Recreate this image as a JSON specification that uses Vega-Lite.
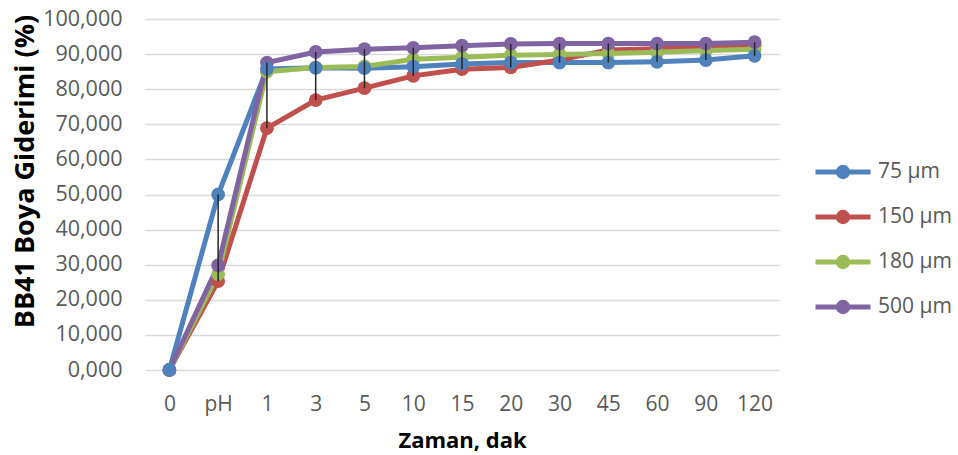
{
  "$schema": "https://vega.github.io/schema/vega-lite/v6.json",
  "autosize": {"type": "none"},
  "padding": {"left": 145, "top": 19, "right": 179, "bottom": 85},
  "width": 634,
  "height": 351,
  "background": "white",
  "config": {
    "view": {"stroke": null},
    "font": "Open Sans"
  },
  "data": {
    "values": [
      {"t": "0", "s": "75 µm", "v": 0}, {"t": "pH", "s": "75 µm", "v": 50.0}, {"t": "1", "s": "75 µm", "v": 85.8}, {"t": "3", "s": "75 µm", "v": 86.1}, {"t": "5", "s": "75 µm", "v": 86.0}, {"t": "10", "s": "75 µm", "v": 86.4}, {"t": "15", "s": "75 µm", "v": 87.2}, {"t": "20", "s": "75 µm", "v": 87.6}, {"t": "30", "s": "75 µm", "v": 87.6}, {"t": "45", "s": "75 µm", "v": 87.6}, {"t": "60", "s": "75 µm", "v": 87.8}, {"t": "90", "s": "75 µm", "v": 88.3}, {"t": "120", "s": "75 µm", "v": 89.5},
      {"t": "0", "s": "150 µm", "v": 0}, {"t": "pH", "s": "150 µm", "v": 25.3}, {"t": "1", "s": "150 µm", "v": 68.9}, {"t": "3", "s": "150 µm", "v": 76.9}, {"t": "5", "s": "150 µm", "v": 80.3}, {"t": "10", "s": "150 µm", "v": 83.8}, {"t": "15", "s": "150 µm", "v": 85.7}, {"t": "20", "s": "150 µm", "v": 86.2}, {"t": "30", "s": "150 µm", "v": 88.3}, {"t": "45", "s": "150 µm", "v": 91.2}, {"t": "60", "s": "150 µm", "v": 91.5}, {"t": "90", "s": "150 µm", "v": 92.0}, {"t": "120", "s": "150 µm", "v": 92.5},
      {"t": "0", "s": "180 µm", "v": 0}, {"t": "pH", "s": "180 µm", "v": 27.3}, {"t": "1", "s": "180 µm", "v": 85.0}, {"t": "3", "s": "180 µm", "v": 86.2}, {"t": "5", "s": "180 µm", "v": 86.5}, {"t": "10", "s": "180 µm", "v": 88.5}, {"t": "15", "s": "180 µm", "v": 89.1}, {"t": "20", "s": "180 µm", "v": 89.7}, {"t": "30", "s": "180 µm", "v": 89.9}, {"t": "45", "s": "180 µm", "v": 90.2}, {"t": "60", "s": "180 µm", "v": 90.5}, {"t": "90", "s": "180 µm", "v": 91.0}, {"t": "120", "s": "180 µm", "v": 91.4},
      {"t": "0", "s": "500 µm", "v": 0}, {"t": "pH", "s": "500 µm", "v": 29.8}, {"t": "1", "s": "500 µm", "v": 87.6}, {"t": "3", "s": "500 µm", "v": 90.6}, {"t": "5", "s": "500 µm", "v": 91.4}, {"t": "10", "s": "500 µm", "v": 91.8}, {"t": "15", "s": "500 µm", "v": 92.4}, {"t": "20", "s": "500 µm", "v": 92.9}, {"t": "30", "s": "500 µm", "v": 93.0}, {"t": "45", "s": "500 µm", "v": 93.0}, {"t": "60", "s": "500 µm", "v": 93.0}, {"t": "90", "s": "500 µm", "v": 93.0}, {"t": "120", "s": "500 µm", "v": 93.4}
    ]
  },
  "encoding": {
    "x": {
      "field": "t", "type": "ordinal",
      "sort": ["0", "pH", "1", "3", "5", "10", "15", "20", "30", "45", "60", "90", "120"],
      "scale": {"type": "point", "padding": 0.5},
      "axis": {
        "title": "Zaman, dak", "titleFont": "Open Sans", "titleFontSize": 22, "titleFontWeight": "bold", "titleColor": "#000000", "titlePadding": 16,
        "labelFont": "Open Sans", "labelFontSize": 21, "labelColor": "#595959", "labelPadding": 23, "labelAngle": 0,
        "domain": false, "ticks": false, "grid": false
      }
    },
    "y": {
      "field": "v", "type": "quantitative",
      "scale": {"domain": [0, 100], "nice": false},
      "axis": {
        "title": "BB41 Boya Giderimi (%)", "titleFont": "Open Sans", "titleFontSize": 27, "titleFontWeight": "bold", "titleColor": "#000000",
        "titleX": -112, "titleY": 152, "titleBaseline": "alphabetic", "titleAngle": -90, "titleAlign": "center",
        "values": [0, 10, 20, 30, 40, 50, 60, 70, 80, 90, 100],
        "labelExpr": "replace(format(datum.value, '.3f'), '.', ',')",
        "labelFont": "Open Sans", "labelFontSize": 21.5, "labelColor": "#595959", "labelPadding": 23,
        "domain": false, "ticks": false,
        "grid": true, "gridColor": "#D9D9D9", "gridWidth": 1.5
      }
    }
  },
  "layer": [
    {
      "mark": {"type": "line", "strokeWidth": 5, "point": {"filled": true, "size": 190, "opacity": 1}},
      "encoding": {
        "color": {
          "field": "s", "type": "nominal",
          "sort": ["75 µm", "150 µm", "180 µm", "500 µm"],
          "scale": {"domain": ["75 µm", "150 µm", "180 µm", "500 µm"], "range": ["#4F81BD", "#C0504D", "#9BBB59", "#8064A2"]},
          "legend": {
            "title": null, "orient": "none", "legendX": 668, "legendY": 123,
            "labelFont": "Open Sans", "labelFontSize": 21, "labelColor": "#595959", "labelOffset": 5,
            "symbolType": "M-1,0L1,0M-0.17,0A0.17,0.17 0 1,1 0.17,0A0.17,0.17 0 1,1 -0.17,0Z",
            "symbolSize": 3025, "symbolStrokeWidth": 5, "rowPadding": -10,
            "encode": {"symbols": {"update": {"fill": {"scale": "color", "field": "value"}, "stroke": {"scale": "color", "field": "value"}, "opacity": {"value": 1}}}}
          }
        },
        "order": {"field": "s", "sort": "ascending"}
      }
    },
    {
      "mark": {"type": "rule", "color": "#262626", "strokeWidth": 1.5},
      "encoding": {
        "y": {"aggregate": "min", "field": "v"},
        "y2": {"aggregate": "max", "field": "v"}
      }
    }
  ]
}
